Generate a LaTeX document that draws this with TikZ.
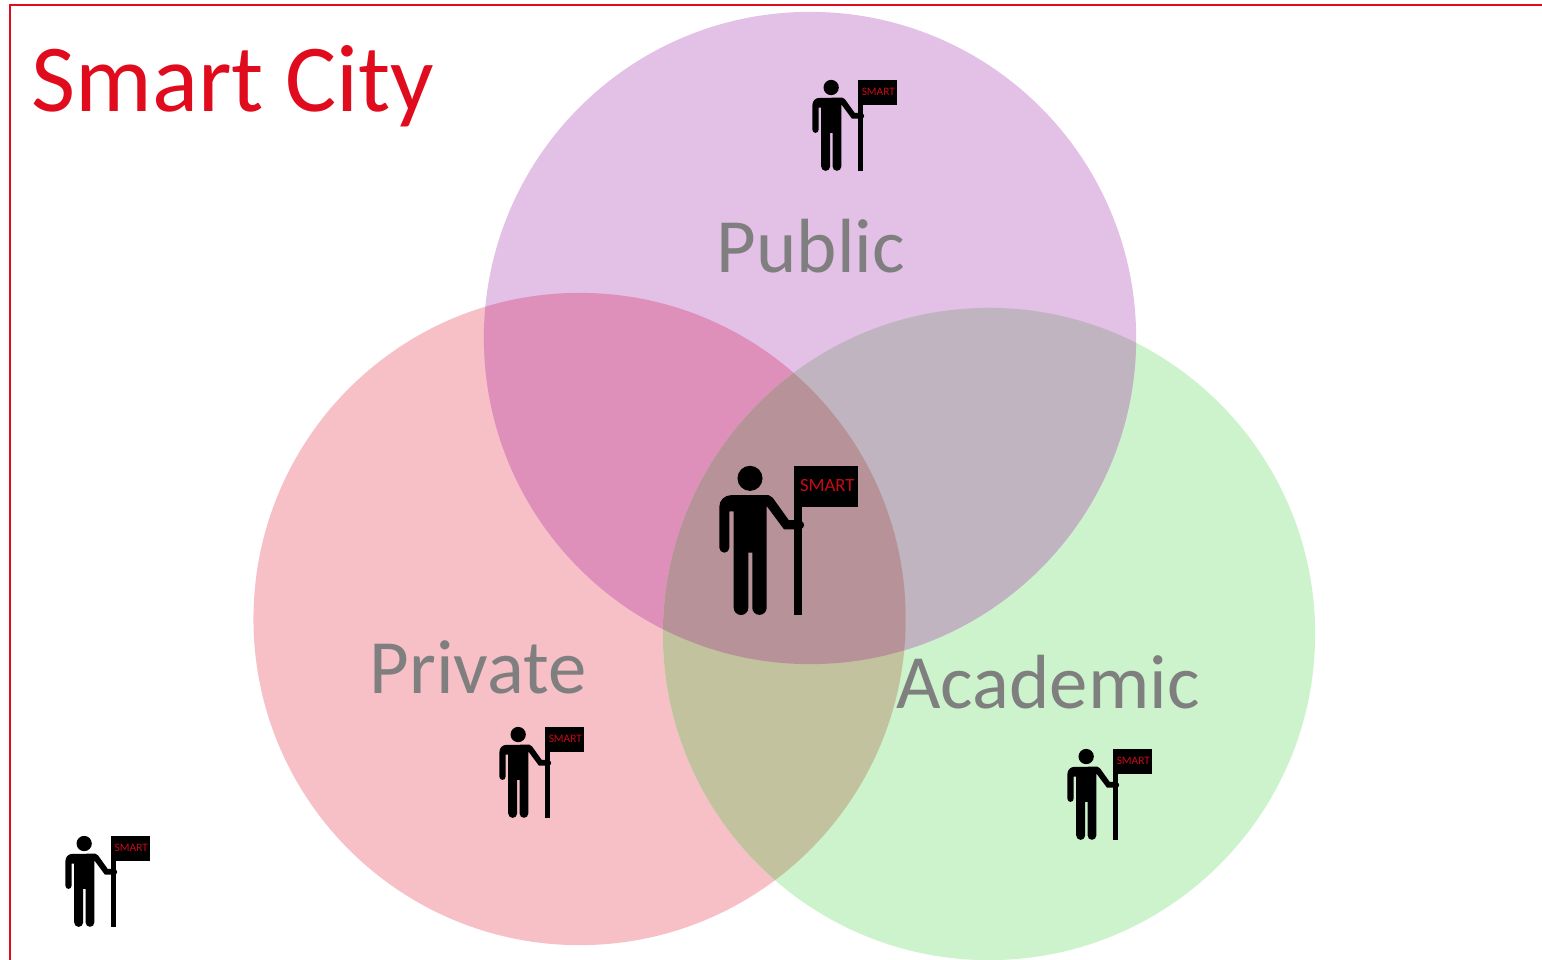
\documentclass[tikz,border=0pt]{standalone}
\usepackage{fontspec}
\setmainfont{Carlito}
\definecolor{framered}{HTML}{E00B1C}
\definecolor{flagred}{HTML}{C80A18}
\definecolor{labelgray}{HTML}{7F7F7F}
\definecolor{pubc}{HTML}{E3C0E5}
\definecolor{privc}{HTML}{F6C0C6}
\definecolor{acadc}{HTML}{CCF3CC}
\definecolor{pubpriv}{HTML}{DF90BA}
\definecolor{pubacad}{HTML}{C0B4C0}
\definecolor{privacad}{HTML}{C2C29E}
\definecolor{allthree}{HTML}{B89299}
\tikzset{
  labeltext/.style={text=labelgray,font=\fontsize{57.6}{58}\selectfont,anchor=base,inner sep=0pt},
  flagman/.pic={
    \begin{scope}[x=0.25pt,y=-0.25pt,shift={(-282,-48)}]
      \fill[black] (150,85) circle[radius=9.4pt];
      \fill[black] (58,293) -- (58,170) arc[start angle=180,end angle=90,radius=8.6pt] -- (205,135)
        -- (218,143) -- (266,210) -- (290,210) -- (300,238) -- (252,238) -- (200,168)
        -- (200,473) arc[start angle=0,end angle=-180,radius=5.4pt] -- (157,308) -- (145,308)
        -- (145,473) arc[start angle=0,end angle=-180,radius=5.5pt] -- (101,184) -- (88,184)
        -- (88,293) arc[start angle=0,end angle=-180,radius=3.75pt] -- cycle;
      \fill[black] (300,225) circle[radius=3.1pt];
      \fill[black] (282,48) rectangle (305,495);
      \fill[black] (282,48) rectangle (473,172);
      \node[text=flagred,font=\fontsize{14}{14}\selectfont,transform shape,inner sep=0pt,anchor=center] (-flagtext) at (382,107) {SMART};
    \end{scope}
  }
}
\begin{document}
\begin{tikzpicture}[x=0.75pt,y=-0.75pt]
  \useasboundingbox (0,0) rectangle (1542,960);
  \coordinate (pub) at (810,338);
  \coordinate (priv) at (579.6,619);
  \coordinate (acad) at (989,634);
  \def\rr{244.6pt}
  \fill[white] (0,0) rectangle (1542,960);
  \fill[privc] (priv) circle[radius=\rr];
  \fill[acadc] (acad) circle[radius=\rr];
  \fill[pubc] (pub) circle[radius=\rr];
  \begin{scope}\clip (pub) circle[radius=\rr]; \fill[pubpriv] (priv) circle[radius=\rr]; \end{scope}
  \begin{scope}\clip (pub) circle[radius=\rr]; \fill[pubacad] (acad) circle[radius=\rr]; \end{scope}
  \begin{scope}\clip (priv) circle[radius=\rr]; \fill[privacad] (acad) circle[radius=\rr]; \end{scope}
  \begin{scope}\clip (pub) circle[radius=\rr]; \clip (priv) circle[radius=\rr]; \fill[allthree] (acad) circle[radius=\rr]; \end{scope}
  \draw[framered,line width=2.2pt] (10,960) -- (10,5) -- (1542,5);
  \node[text=framered,font=\fontsize{72}{72}\selectfont,anchor=base,inner sep=0pt] (title) at (233,111) {Smart City};
  \node[labeltext] (publabel) at (811,272.5) {Public};
  \node[labeltext] (privlabel) at (478,693.5) {Private};
  \node[labeltext] (acadlabel) at (1048,708.5) {Academic};
  \pic (bigman) at (794,466) {flagman};
  \pic[scale=0.61] (manpub) at (858,80) {flagman};
  \pic[scale=0.61] (manpriv) at (545,727) {flagman};
  \pic[scale=0.61] (manacad) at (1113,749) {flagman};
  \pic[scale=0.61] (manout) at (111,836) {flagman};
\end{tikzpicture}
\end{document}
